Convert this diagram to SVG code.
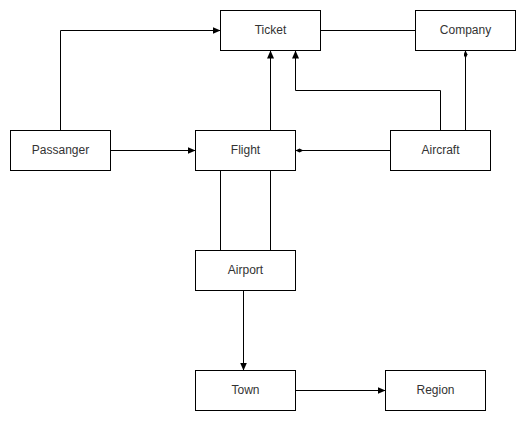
<svg xmlns="http://www.w3.org/2000/svg" width="526" height="421" viewBox="0 0 526 421">
<style>
.box{fill:#fff;stroke:#000;stroke-width:1}
.lbl{font-family:"Liberation Sans",Arial,Helvetica,sans-serif;font-size:12px;fill:#333;text-anchor:middle}
.edge{fill:none;stroke:#000;stroke-width:1}
</style>
<defs>
<marker id="arrow" markerUnits="userSpaceOnUse" markerWidth="9" markerHeight="8" refX="8" refY="3.5" orient="auto" viewBox="0 0 9 8">
<path d="M0,0 L8,3.5 L0,7 z" fill="#000"/>
</marker>
<marker id="diamond" markerUnits="userSpaceOnUse" markerWidth="9" markerHeight="5" refX="8" refY="2" orient="auto" viewBox="0 0 9 5">
<path d="M0,2 L4,0 L8,2 L4,4 z" fill="#000"/>
</marker>
</defs>
<rect width="526" height="421" fill="#fff"/>
<g transform="translate(0.5,0.5)">
<g id="connectors">
<path class="edge" d="M60,130 L60,30 L220,30" marker-end="url(#arrow)"/>
<path class="edge" d="M110,150 L195,150" marker-end="url(#arrow)"/>
<path class="edge" d="M270,130 L270,50" marker-end="url(#arrow)"/>
<path class="edge" d="M440,130 L440,90 L295,90 L295,50" marker-end="url(#arrow)"/>
<path class="edge" d="M465,130 L465,50" marker-end="url(#diamond)"/>
<path class="edge" d="M320,30 L415,30"/>
<path class="edge" d="M390,150 L295,150" marker-end="url(#diamond)"/>
<path class="edge" d="M220,170 L220,250"/>
<path class="edge" d="M270,170 L270,250"/>
<path class="edge" d="M243,290 L243,370" marker-end="url(#arrow)"/>
<path class="edge" d="M295,390 L385,390" marker-end="url(#arrow)"/>
</g>
<g id="ticket"><rect class="box" x="220" y="10" width="100" height="40"/><text class="lbl" x="270" y="33">Ticket</text></g>
<g id="company"><rect class="box" x="415" y="10" width="100" height="40"/><text class="lbl" x="465" y="33">Company</text></g>
<g id="passanger"><rect class="box" x="10" y="130" width="100" height="40"/><text class="lbl" x="60" y="153">Passanger</text></g>
<g id="flight"><rect class="box" x="195" y="130" width="100" height="40"/><text class="lbl" x="245" y="153">Flight</text></g>
<g id="aircraft"><rect class="box" x="390" y="130" width="100" height="40"/><text class="lbl" x="440" y="153">Aircraft</text></g>
<g id="airport"><rect class="box" x="195" y="250" width="100" height="40"/><text class="lbl" x="245" y="273">Airport</text></g>
<g id="town"><rect class="box" x="195" y="370" width="100" height="40"/><text class="lbl" x="245" y="393">Town</text></g>
<g id="region"><rect class="box" x="385" y="370" width="100" height="40"/><text class="lbl" x="435" y="393">Region</text></g>
</g>
</svg>
